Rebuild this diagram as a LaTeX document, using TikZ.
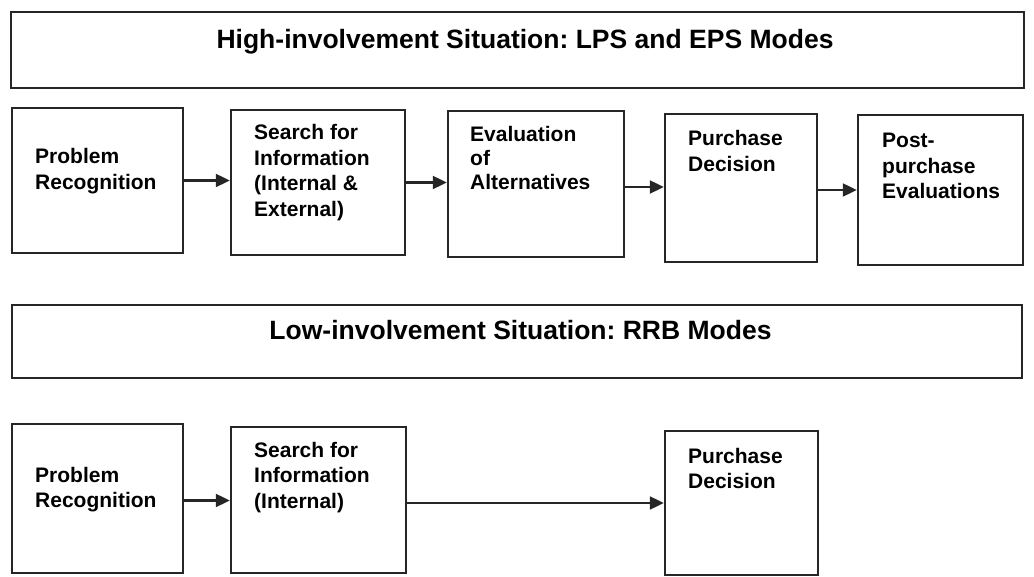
\documentclass[tikz,border=0pt]{standalone}
\usepackage{fontspec}
\setmainfont{Liberation Sans}
\usetikzlibrary{arrows.meta}
\frenchspacing

\tikzset{
  stage/.style={draw=black!85, line width=2.5pt, rectangle, inner sep=0pt},
  banner/.style={draw=black!85, line width=2.5pt, rectangle, inner sep=0pt},
  % multi-line labels: the base anchor sits on the last line
  lbl/.style={inner sep=0pt, align=left, anchor=base west,
              font=\fontsize{21}{25.5}\selectfont\bfseries, text=black},
  head/.style={inner sep=0pt, anchor=base,
               font=\fontsize{26.5}{30}\selectfont\bfseries, text=black},
  flow/.style={draw=black!85, line width=2.4pt,
               -{Triangle[length=14pt,width=13pt]}}
}

\begin{document}
\begin{tikzpicture}[x=1pt,y=-1pt]
  \useasboundingbox (0,0) rectangle (1034,577);

  % high-involvement process
  \node[banner, minimum width=1013pt, minimum height=76pt] (hb) at (517.5,50) {};
  \node[head] (ht) at (525,49) {High-involvement Situation: LPS and EPS Modes};

  \node[stage, minimum width=171pt, minimum height=145pt] (h1) at (97.5,180.5) {};
  \node[stage, minimum width=174pt, minimum height=145pt] (h2) at (318,182.5) {};
  \node[stage, minimum width=176pt, minimum height=146pt] (h3) at (536,184) {};
  \node[stage, minimum width=152pt, minimum height=148pt] (h4) at (741,188) {};
  \node[stage, minimum width=165pt, minimum height=150pt] (h5) at (940.5,190) {};

  \node[lbl] (h1t) at (35,189.5) {Problem\\Recognition};
  \node[lbl] (h2t) at (254,216.5) {Search for\\Information\\(Internal \&\\External)};
  \node[lbl, font=\fontsize{21}{24}\selectfont\bfseries] (h3t) at (470,190) {Evaluation\\of\\Alternatives};
  \node[lbl] (h4t) at (688,171.5) {Purchase\\Decision};
  \node[lbl] (h5t) at (882,199) {Post-\\purchase\\Evaluations};

  \draw[flow] (h1.east) -- (h1.east -| h2.west);
  \draw[flow] (h2.east) -- (h2.east -| h3.west);
  \draw[flow] ([yshift=-3pt]h3.east) -- ([yshift=-3pt]h3.east -| h4.west);
  \draw[flow] ([yshift=-2pt]h4.east) -- ([yshift=-2pt]h4.east -| h5.west);

  % low-involvement process
  \node[banner, minimum width=1010pt, minimum height=73pt] (lb) at (517,341.5) {};
  \node[head] (lt) at (520.5,340) {Low-involvement Situation: RRB Modes};

  \node[stage, minimum width=171pt, minimum height=149pt] (b1) at (97.5,498.5) {};
  \node[stage, minimum width=175pt, minimum height=146pt] (b2) at (318.5,500) {};
  \node[stage, minimum width=153pt, minimum height=144pt] (b3) at (741.5,503) {};

  \node[lbl] (b1t) at (35,507.5) {Problem\\Recognition};
  \node[lbl] (b2t) at (254,508) {Search for\\Information\\(Internal)};
  \node[lbl] (b3t) at (688,488.5) {Purchase\\Decision};

  \draw[flow] ([yshift=-2pt]b1.east) -- ([yshift=-2pt]b1.east -| b2.west);
  \draw[flow] ([yshift=-3pt]b2.east) -- ([yshift=-3pt]b2.east -| b3.west);
\end{tikzpicture}
\end{document}
